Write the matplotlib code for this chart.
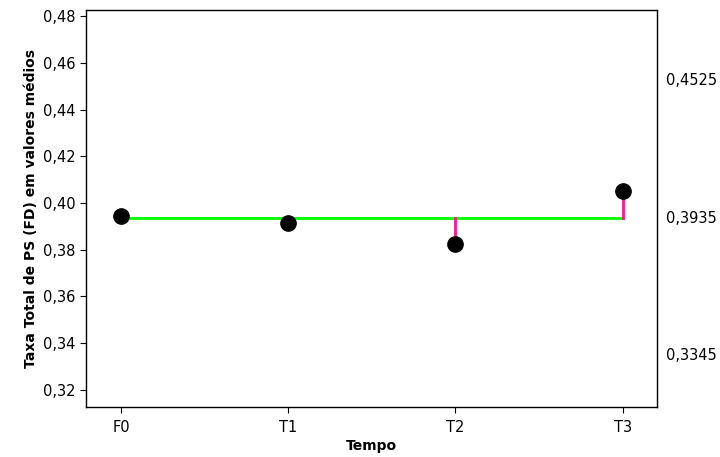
import matplotlib
matplotlib.use("Agg")
import matplotlib.pyplot as plt
import matplotlib.transforms as mtransforms
from matplotlib.ticker import FuncFormatter

# data
tempos = ["F0", "T1", "T2", "T3"]
medias = [0.3943, 0.3914, 0.3822, 0.4049]
centro = 0.3935
limites_dir = [0.4525, 0.3935, 0.3345]
y_ticks = [0.32, 0.34, 0.36, 0.38, 0.40, 0.42, 0.44, 0.46, 0.48]

plt.rcParams["font.family"] = ["DejaVu Sans"]

fig = plt.figure(figsize=(7.2, 4.57), dpi=100)
ax = fig.add_axes([0.119, 0.109, 0.7935, 0.869])

x = list(range(len(tempos)))

# center line
ax.plot([x[0], x[-1]], [centro, centro], color="#00ff00", lw=2, zorder=2)

# deviations from the center
for xi, m in zip(x, medias):
    ax.plot([xi, xi], [centro, m], color="#ff1493", lw=2, zorder=2)

ax.plot(x, medias, "o", color="black", markersize=11, zorder=3)

ax.set_xlim(-0.211, 3.205)
ax.set_ylim(0.3125, 0.4826)
ax.set_xticks(x)
ax.set_xticklabels(tempos)
ax.set_yticks(y_ticks)
ax.yaxis.set_major_formatter(FuncFormatter(lambda v, p: f"{v:.2f}".replace(".", ",")))
ax.tick_params(direction="out", length=4, labelsize=10.5)
ax.tick_params(axis="x", pad=5)

for sp in ax.spines.values():
    sp.set_linewidth(1)

# labels on the right side for the limits
trans = mtransforms.blended_transform_factory(ax.transAxes, ax.transData)
for v in limites_dir:
    ax.text(1.015, v, f"{v:.4f}".replace(".", ","), transform=trans,
            ha="left", va="center", fontsize=10.5)

ax.set_xlabel("Tempo", fontweight="bold", fontsize=10, labelpad=3)
ax.set_ylabel("Taxa Total de PS (FD) em valores médios", fontweight="bold", fontsize=10, labelpad=3)

fig.savefig("out.png", dpi=100)
